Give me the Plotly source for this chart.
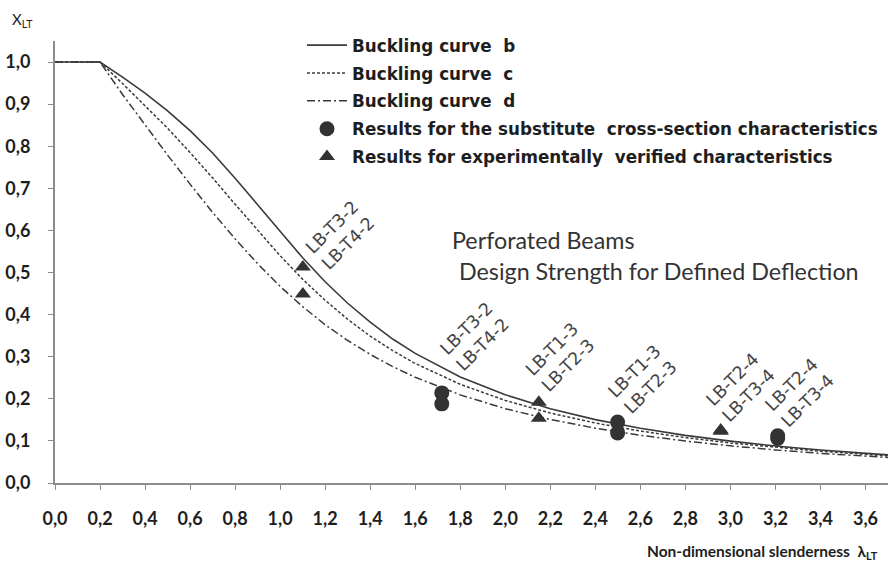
import plotly.graph_objects as go

# Slenderness values (x) for the buckling curves
lam = [0.0, 0.2, 0.3, 0.4, 0.5, 0.6, 0.7, 0.8, 0.9, 1.0, 1.1, 1.2, 1.3, 1.4, 1.5, 1.6,
       1.8, 2.0, 2.2, 2.4, 2.6, 2.8, 3.0, 3.2, 3.4, 3.7]
curve_b = [1.0, 1.0, 0.964, 0.926, 0.884, 0.837, 0.784, 0.724, 0.661, 0.597, 0.535, 0.478,
           0.427, 0.382, 0.342, 0.308, 0.252, 0.2095, 0.1765, 0.1506, 0.1299, 0.1132,
           0.0994, 0.0880, 0.0785, 0.0668]
curve_c = [1.0, 1.0, 0.949, 0.897, 0.843, 0.785, 0.725, 0.662, 0.600, 0.540, 0.484, 0.434,
           0.389, 0.349, 0.3145, 0.284, 0.2345, 0.1962, 0.1662, 0.1425, 0.1234, 0.1079,
           0.0951, 0.0844, 0.0754, 0.0644]
curve_d = [1.0, 1.0, 0.923, 0.850, 0.779, 0.710, 0.643, 0.580, 0.521, 0.467, 0.419, 0.376,
           0.3385, 0.3055, 0.2766, 0.2512, 0.2093, 0.1766, 0.1508, 0.1302, 0.1134, 0.0997,
           0.0882, 0.0786, 0.0705, 0.0605]

# Results for the substitute cross-section characteristics (circles)
sub_x = [1.718, 1.718, 2.499, 2.499, 3.21, 3.21]
sub_y = [0.214, 0.188, 0.145, 0.119, 0.112, 0.106]

# Results for experimentally verified characteristics (triangles)
exp_x = [1.101, 1.101, 2.149, 2.149, 2.957, 2.957]
exp_y = [0.513, 0.449, 0.192, 0.154, 0.126, 0.123]

# Point labels (two names per group) and their label positions
label_text = ["LB-T3-2<br>LB-T4-2", "LB-T3-2<br>LB-T4-2", "LB-T1-3<br>LB-T2-3",
              "LB-T1-3<br>LB-T2-3", "LB-T2-4<br>LB-T3-4", "LB-T2-4<br>LB-T3-4"]
label_x = [1.265, 1.865, 2.242, 2.61, 3.046, 3.31]
label_y = [0.589, 0.347, 0.299, 0.245, 0.226, 0.214]

x_ticks = [0.0, 0.2, 0.4, 0.6, 0.8, 1.0, 1.2, 1.4, 1.6, 1.8, 2.0, 2.2, 2.4, 2.6, 2.8,
           3.0, 3.2, 3.4, 3.6]
y_ticks = [0.0, 0.1, 0.2, 0.3, 0.4, 0.5, 0.6, 0.7, 0.8, 0.9, 1.0]

FONT = "Lato"
LINE = "#3a3a3a"
AXIS = "#8c8c8c"
TXT = "#1e1e1e"

fig = go.Figure()
fig.add_trace(go.Scatter(x=lam, y=curve_b, mode="lines", name="Buckling curve  b",
                         legendgroup="b", line=dict(color=LINE, width=1.6)))
fig.add_trace(go.Scatter(x=lam, y=curve_c, mode="lines", name="Buckling curve  c",
                         legendgroup="c", line=dict(color=LINE, width=1.5, dash="3px,2px")))
fig.add_trace(go.Scatter(x=lam, y=curve_d, mode="lines", name="Buckling curve  d",
                         legendgroup="d",
                         line=dict(color=LINE, width=1.5, dash="8px,3px,2px,3px")))
fig.add_trace(go.Scatter(x=sub_x, y=sub_y, mode="markers", legendgroup="s",
                         name="Results for the substitute  cross-section characteristics",
                         marker=dict(symbol="circle", size=15, color="#333333")))
fig.add_trace(go.Scatter(x=exp_x, y=exp_y, mode="markers", legendgroup="e",
                         name="Results for experimentally  verified characteristics",
                         marker=dict(symbol="triangle-up", size=14, color="#333333")))
# helper axes carrying only the short tick marks
fig.add_trace(go.Scatter(x=[0, 3.7], y=[0, 0], xaxis="x2", yaxis="y2", mode="lines",
                         showlegend=False, hoverinfo="skip",
                         line=dict(color="rgba(0,0,0,0)")))

annotations = []
for t, lx, ly in zip(label_text, label_x, label_y):
    annotations.append(dict(x=lx, y=ly, xref="x", yref="y", text=t, showarrow=False,
                            textangle=-45, align="left", xanchor="center", yanchor="middle",
                            font=dict(family="DejaVu Sans", size=17.5, color="#444444")))

annotations += [
    dict(x=1.754, y=0.577, xref="x", yref="y", text="Perforated Beams", showarrow=False,
         xanchor="left", yanchor="middle", font=dict(family=FONT, size=23.3, color="#333333")),
    dict(x=1.785, y=0.504, xref="x", yref="y", text="Design Strength for Defined Deflection",
         showarrow=False, xanchor="left", yanchor="middle",
         font=dict(family=FONT, size=23.3, color="#333333")),
    dict(x=-0.0396, y=1.0475, xref="paper", yref="paper", text="Χ<sub>LT</sub>",
         showarrow=False, xanchor="center", yanchor="middle",
         font=dict(family=FONT, size=15, color=TXT)),
    dict(x=0.99, y=-0.156, xref="paper", yref="paper",
         text="<b>Non-dimensional slenderness  λ<sub>LT</sub></b>", showarrow=False,
         xanchor="right", yanchor="middle", font=dict(family=FONT, size=15.5, color=TXT)),
]

fig.update_layout(
    width=890, height=569,
    margin=dict(l=55, r=2, t=41, b=86),
    plot_bgcolor="white", paper_bgcolor="white",
    separators=", ",
    showlegend=True,
    legend=dict(x=0.2965, y=1.03, xanchor="left", yanchor="top", traceorder="grouped",
                bgcolor="rgba(0,0,0,0)",
                font=dict(family="DejaVu Sans", size=16.8, color=TXT, weight="bold"),
                itemwidth=40, tracegroupgap=3),
    annotations=annotations,
    font=dict(family=FONT),
)
fig.update_layout(
    xaxis=dict(range=[0, 3.7], tickmode="array", tickvals=x_ticks, tickformat=".1f",
               showgrid=False, zeroline=False, showline=True, linecolor=AXIS, linewidth=2,
               ticks="outside", ticklen=18, tickcolor="rgba(0,0,0,0)", automargin=False,
               tickfont=dict(family=FONT, size=18, color=TXT, weight="bold")),
    xaxis2=dict(range=[0, 3.7], overlaying="x", side="bottom", anchor="y", matches="x",
                tickmode="array", tickvals=x_ticks, showticklabels=False, showgrid=False,
                zeroline=False, showline=False, ticks="outside", ticklen=6,
                tickcolor=AXIS, tickwidth=1, automargin=False),
    yaxis=dict(range=[0, 1.05], tickmode="array", tickvals=y_ticks, tickformat=".1f",
               showgrid=False, zeroline=False, showline=True, linecolor=AXIS, linewidth=2,
               ticks="outside", ticklen=19, tickcolor="rgba(0,0,0,0)", automargin=False,
               tickfont=dict(family=FONT, size=18, color=TXT, weight="bold")),
    yaxis2=dict(range=[0, 1.05], overlaying="y", side="left", anchor="x", matches="y",
                tickmode="array", tickvals=y_ticks, showticklabels=False, showgrid=False,
                zeroline=False, showline=False, ticks="outside", ticklen=6,
                tickcolor=AXIS, tickwidth=1, automargin=False),
)

fig.write_html("out.html", config={"displayModeBar": False},
               post_script="document.body.style.margin='0px';")
